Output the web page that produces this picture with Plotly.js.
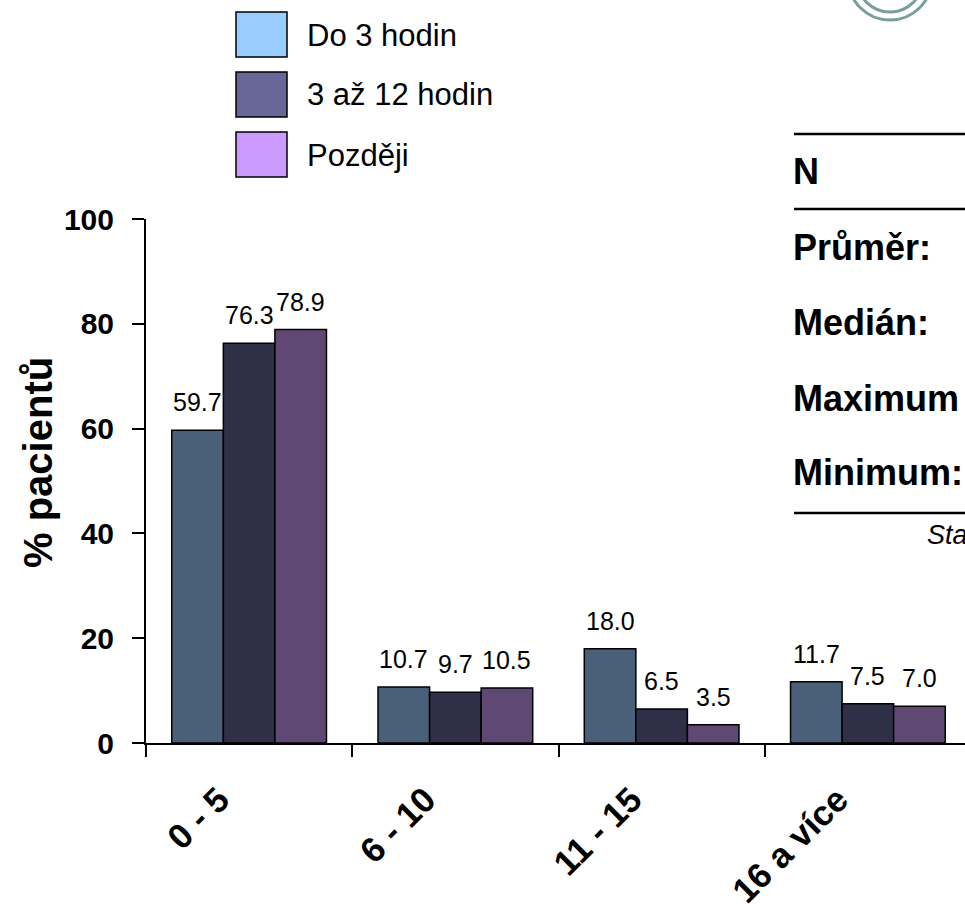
<!DOCTYPE html>
<html>
<head>
<meta charset="utf-8">
<script src="https://cdn.plot.ly/plotly-3.0.1.min.js"></script>
<style>
html, body { margin:0; padding:0; overflow:hidden; background:#fff; width:965px; height:904px; }
#chart { width:990px; height:904px; }
</style>
</head>
<body>
<div id="chart"></div>
<script>
var categories = ['0 - 5', '6 - 10', '11 - 15', '16 a více'];
var seriesNames = ['Do 3 hodin', '3 až 12 hodin', 'Později'];
var doTri = [59.7, 10.7, 18.0, 11.7];
var triAz12 = [76.3, 9.7, 6.5, 7.5];
var pozdeji = [78.9, 10.5, 3.5, 7.0];
var barColors = ['#4a6078', '#2f2f47', '#604875'];
var legendColors = ['#99ccff', '#666699', '#cc99ff'];
var yTicks = [0, 20, 40, 60, 80, 100];
var yTitle = '% pacientů';
var tableLabels = ['N', 'Průměr:', 'Medián:', 'Maximum', 'Minimum:'];

var FONT = 'Liberation Sans, Arial, sans-serif';
var W = 990, H = 904, ML = 146, MR = 19, MT = 219, MB = 161;
var PW = W - ML - MR, PH = H - MT - MB;
var BARGAP = 0.25;
var barPx = PW / categories.length * (1 - BARGAP) / seriesNames.length;
function px(x) { return (x - ML) / PW; }
function py(y) { return (H - MB - y) / PH; }

var seriesVals = [doTri, triAz12, pozdeji];
var traces = seriesVals.map(function (vals, i) {
  return {
    type: 'bar', x: categories, y: vals, name: seriesNames[i],
    marker: { color: barColors[i], line: { color: '#000', width: 1.5 } },
    hoverinfo: 'skip'
  };
});

var shapes = [], annotations = [];
// value labels above bars
seriesVals.forEach(function (vals, i) {
  vals.forEach(function (v, j) {
    annotations.push({ xref: 'x', yref: 'y', x: categories[j], y: v,
      xshift: (i - 1) * barPx, yshift: 12, xanchor: 'center', yanchor: 'bottom',
      showarrow: false, text: v.toFixed(1),
      font: { family: FONT, size: 25, color: '#000' } });
  });
});
// y-axis title
annotations.push({ xref: 'paper', yref: 'paper', x: px(38), y: py(462),
  xanchor: 'center', yanchor: 'middle', textangle: -90, showarrow: false,
  text: '<b>' + yTitle + '</b>', font: { family: FONT, size: 40, color: '#000' } });
// legend
seriesNames.forEach(function (n, i) {
  var top = 12 + i * 60;
  shapes.push({ type: 'rect', xref: 'paper', yref: 'paper',
    x0: px(236), x1: px(287), y0: py(top), y1: py(top + 45),
    fillcolor: legendColors[i], line: { color: '#000', width: 1.5 } });
  annotations.push({ xref: 'paper', yref: 'paper', x: px(305), y: py(top + 23),
    xanchor: 'left', yanchor: 'middle', showarrow: false, text: n,
    font: { family: FONT, size: 31, color: '#000' } });
});
// table on the right
[134, 209, 513].forEach(function (yy) {
  shapes.push({ type: 'line', xref: 'paper', yref: 'paper',
    x0: px(794), x1: px(990), y0: py(yy), y1: py(yy), line: { color: '#000', width: 2.5 } });
});
var rowY = [172, 248, 322, 398, 472];
tableLabels.forEach(function (t, i) {
  annotations.push({ xref: 'paper', yref: 'paper', x: px(791), y: py(rowY[i]),
    xanchor: 'left', yanchor: 'middle', showarrow: false, text: '<b>' + t + '</b>',
    font: { family: FONT, size: 36, color: '#000' } });
});
annotations.push({ xref: 'paper', yref: 'paper', x: px(925), y: py(535),
  xanchor: 'left', yanchor: 'middle', showarrow: false, text: '<i>Statistika</i>',
  font: { family: FONT, size: 27, color: '#000' } });
// logo circles
shapes.push({ type: 'circle', xref: 'paper', yref: 'paper',
  x0: px(848), x1: px(932), y0: py(-64), y1: py(20), line: { color: '#7a9e9a', width: 3 } });
shapes.push({ type: 'circle', xref: 'paper', yref: 'paper',
  x0: px(857), x1: px(923), y0: py(-54), y1: py(12), line: { color: '#7a9e9a', width: 3 } });

var layout = {
  width: W, height: H,
  margin: { l: ML, r: MR, t: MT, b: MB },
  paper_bgcolor: '#fff', plot_bgcolor: '#fff',
  showlegend: false, barmode: 'group', bargap: BARGAP, bargroupgap: 0,
  font: { family: FONT, color: '#000' },
  xaxis: {
    type: 'category', range: [-0.5, 3.5], showline: true, linecolor: '#000', linewidth: 2,
    ticks: 'outside', tickson: 'boundaries', ticklen: 12, tickwidth: 2, tickcolor: '#000',
    tickangle: -45, showgrid: false, zeroline: false,
    ticklabelstandoff: 20, ticklabelshift: -30,
    tickfont: { family: FONT, size: 35, weight: 'bold', color: '#000' }
  },
  yaxis: {
    range: [0, 100], tickvals: yTicks, ticktext: yTicks.map(String),
    showline: true, linecolor: '#000', linewidth: 2,
    ticks: 'outside', ticklen: 12, tickwidth: 2, tickcolor: '#000',
    showgrid: false, zeroline: false, ticklabelstandoff: 12,
    tickfont: { family: FONT, size: 30, weight: 'bold', color: '#000' }
  },
  shapes: shapes, annotations: annotations
};

Plotly.newPlot('chart', traces, layout, { displayModeBar: false, staticPlot: true });
</script>
</body>
</html>
